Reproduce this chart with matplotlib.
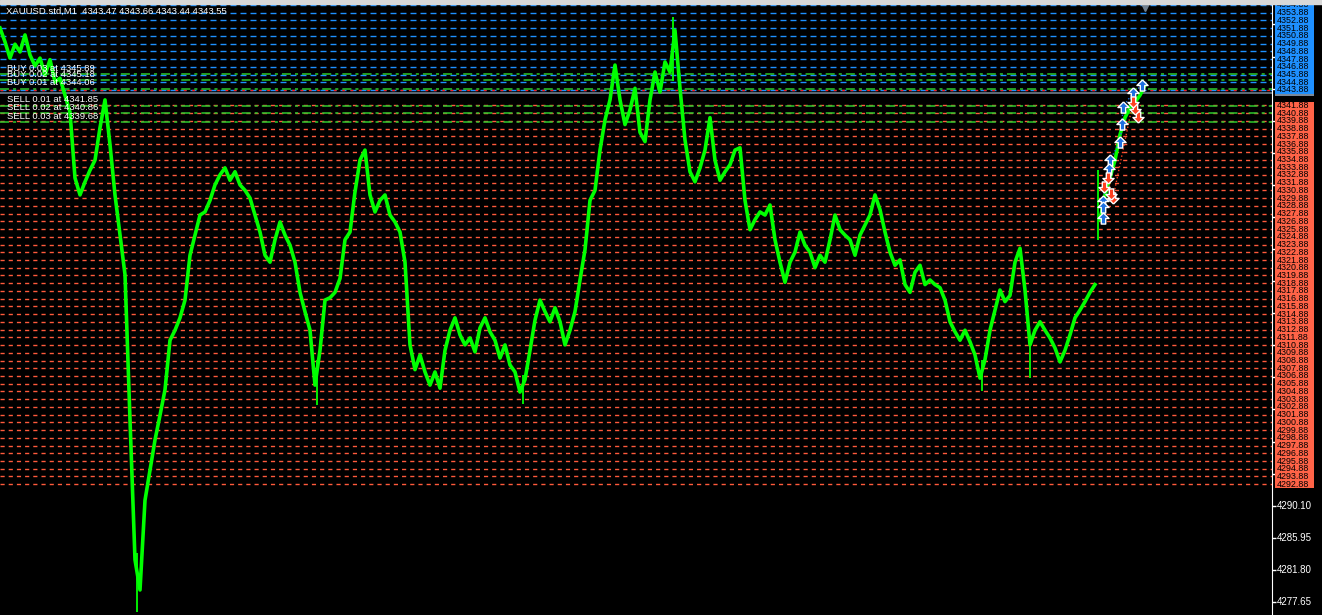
import numpy as np
import matplotlib
matplotlib.use("Agg")
import matplotlib.pyplot as plt
from matplotlib.path import Path
from matplotlib.patches import Rectangle

plt.rcParams['lines.scale_dashes'] = False
plt.rcParams['font.family'] = ['Liberation Sans', 'DejaVu Sans']

# price series (one value every 5 bars)
close_a = [
    4351.9, 4350.1, 4348.0, 4349.8, 4348.8, 4351.0, 4348.4, 4347.0, 4348.0, 4345.8,
    4347.8, 4344.9, 4345.4, 4343.2, 4341.0, 4332.5, 4330.3, 4332.0, 4333.5, 4334.8,
    4339.0, 4342.6, 4336.8, 4330.3, 4325.1, 4320.0, 4301.2, 4283.1, 4279.2, 4290.8,
    4294.7, 4298.6, 4301.8, 4305.1, 4311.5, 4312.8, 4314.4, 4316.7, 4322.5, 4325.1,
    4327.7, 4328.1, 4329.6, 4331.6, 4332.9, 4333.8, 4332.2, 4333.3, 4331.6, 4330.9,
    4329.9, 4327.7, 4325.5, 4322.5, 4321.6, 4324.5, 4326.8, 4325.1, 4323.8, 4321.6,
    4317.7, 4315.2, 4312.8, 4305.7, 4310.2, 4316.7, 4317.0, 4317.7, 4319.5, 4324.5,
    4325.5, 4330.7, 4334.8, 4336.1, 4330.3, 4328.1, 4329.6, 4330.3, 4327.7, 4326.8,
    4325.5, 4321.6, 4310.9, 4307.7, 4309.6, 4307.4, 4305.7, 4307.4, 4305.3, 4310.2,
    4312.8, 4314.4, 4312.2, 4310.9, 4311.8, 4310.0, 4313.1, 4314.4, 4312.6, 4311.5,
    4309.2, 4310.9, 4308.3, 4307.4, 4304.8, 4306.4, 4310.2, 4314.1, 4316.7, 4315.2,
    4313.9, 4315.7, 4313.9, 4310.9, 4312.8, 4315.2, 4319.3, 4323.2, 4329.6, 4330.9,
    4336.1, 4340.0, 4342.6, 4347.1, 4342.6, 4339.4, 4341.3, 4344.1, 4338.4, 4337.2,
    4342.6, 4346.2, 4343.6, 4347.5, 4346.2, 4351.6, 4344.1, 4337.4, 4333.3, 4332.0,
    4333.8, 4336.1, 4340.3, 4334.8, 4332.2, 4333.3, 4334.2, 4336.1, 4336.4, 4329.6,
    4325.8, 4327.1, 4328.1, 4327.7, 4329.0, 4324.5, 4321.6, 4319.0, 4321.6, 4322.9,
    4325.5, 4323.8, 4322.9, 4320.9, 4322.5, 4321.6, 4324.5, 4327.7, 4325.8, 4325.1,
    4324.5, 4322.5, 4325.1, 4326.4, 4327.7, 4330.3, 4328.4, 4325.5, 4322.9, 4321.2,
    4321.9, 4318.7, 4317.7, 4320.3, 4321.2, 4318.7, 4319.3, 4318.7, 4318.3, 4316.7,
    4313.9, 4312.6, 4311.5, 4312.8, 4311.3, 4309.6, 4306.6, 4309.0, 4312.8, 4315.4,
    4318.0, 4316.5, 4317.3, 4321.6, 4323.4, 4318.0, 4310.9, 4312.8, 4313.9, 4312.8,
    4311.8, 4310.5, 4308.7, 4310.2, 4312.2, 4314.4, 4315.4, 4316.5, 4317.7, 4318.7,
]
close_b = [4327.1, 4330.3, 4332.5, 4334.8, 4338.1, 4340.3, 4341.6, 4342.3, 4343.2, 4344.5]

# isolated long bars (bar, low, high)
spike_bar = [137, 317, 523, 982, 1030, 673, 1098]
spike_low = [4276.4, 4303.1, 4303.2, 4305.0, 4306.6, 4345.0, 4324.5]
spike_high = [4284.0, 4309.0, 4307.0, 4309.0, 4312.0, 4353.3, 4333.5]

blue_levels = [4354.88, 4353.88, 4352.88, 4351.88, 4350.88, 4349.88, 4348.88,
               4347.88, 4346.88, 4345.88, 4344.88, 4343.88]
red_levels = [4341.88, 4340.88, 4339.88, 4338.88, 4337.88, 4336.88, 4335.88, 4334.88,
              4333.88, 4332.88, 4331.88, 4330.88, 4329.88, 4328.88, 4327.88, 4326.88,
              4325.88, 4324.88, 4323.88, 4322.88, 4321.88, 4320.88, 4319.88, 4318.88,
              4317.88, 4316.88, 4315.88, 4314.88, 4313.88, 4312.88, 4311.88, 4310.88,
              4309.88, 4308.88, 4307.88, 4306.88, 4305.88, 4304.88, 4303.88, 4302.88,
              4301.88, 4300.88, 4299.88, 4298.88, 4297.88, 4296.88, 4295.88, 4294.88,
              4293.88, 4292.88]

trade_labels = ["BUY 0.03 at 4345.89", "BUY 0.02 at 4345.18", "BUY 0.01 at 4344.06",
                "SELL 0.01 at 4341.85", "SELL 0.02 at 4340.86", "SELL 0.03 at 4339.68"]
trade_prices = [4345.89, 4345.18, 4344.06, 4341.85, 4340.86, 4339.68]

buy_bar = [1142, 1133, 1123, 1122, 1120, 1110, 1109, 1103, 1103, 1103]
buy_price = [4344.5, 4343.5, 4341.7, 4339.5, 4337.2, 4334.8, 4333.7, 4329.5, 4328.7, 4327.3]
sell_bar = [1138, 1135, 1133, 1113, 1111, 1108, 1104]
sell_price = [4340.4, 4341.4, 4342.3, 4329.9, 4330.4, 4332.5, 4331.3]

scale_ticks = [4277.65, 4281.80, 4285.95, 4290.10, 4294.25, 4298.40, 4302.55, 4306.70,
               4310.85, 4315.00, 4319.15, 4323.30, 4327.45, 4331.60, 4335.75, 4339.90,
               4344.05, 4348.20, 4352.35]
scale_labels = ["4277.65", "4281.80", "4285.95", "4290.10"]

bid = 4343.55
header = "XAUUSD.std,M1  4343.47 4343.66 4343.44 4343.55"

W, H = 1322, 615
ymin, ymax = 4275.96, 4355.0

fig = plt.figure(figsize=(W / 100, H / 100), dpi=100, facecolor='black')
ax = fig.add_axes([0, 0, 1272 / W, 611 / H])
ax.set_facecolor('black')
ax.set_xlim(0, 1272)
ax.set_ylim(ymin, ymax)
ax.axis('off')

for lv in blue_levels:
    ax.axhline(lv, color='#1E90FF', lw=1, dashes=(4.3, 2.9), zorder=1)
for lv in red_levels:
    ax.axhline(lv, color='#FF5A3C', lw=1, dashes=(3.0, 2.9), zorder=1)
ax.axhline(blue_levels[-1], color='#FF2020', lw=1, dashes=(2.0, 4.0), zorder=1.1)

for p in trade_prices:
    ax.axhline(p, color='#2DC82D', lw=1.1, dashes=(6.5, 2.9, 2.2, 2.9), zorder=1.2)

ax.axhline(bid, color='#7A8898', lw=1.1, zorder=1.3)

xa = np.arange(len(close_a)) * 5
xb = 1100 + np.arange(len(close_b)) * 5
ax.plot(xa, close_a, color='#00FF00', lw=2.6, zorder=3)
ax.plot(xb, close_b, color='#00FF00', lw=2.6, zorder=3)
ax.vlines(spike_bar, spike_low, spike_high, color='#00FF00', lw=1.3, zorder=3)

ax.plot(buy_bar, buy_price, color='#1E70E0', lw=1, ls=':', zorder=3.5)
ax.plot(sell_bar, sell_price, color='#FF4020', lw=1, ls=':', zorder=3.5)

up = Path([(0, 1), (-1, 0), (-0.4, 0), (-0.4, -1), (0.4, -1), (0.4, 0), (1, 0), (0, 1)])
down = Path([(0, -1), (-1, 0), (-0.4, 0), (-0.4, 1), (0.4, 1), (0.4, 0), (1, 0), (0, -1)])
ax.plot(buy_bar, buy_price, ls='none', marker=up, ms=8, mfc='#1E70E0', mec='white', mew=1, zorder=4)
ax.plot(sell_bar, sell_price, ls='none', marker=down, ms=8, mfc='#FF4020', mec='white', mew=1, zorder=4)

for txt, p in zip(trade_labels, trade_prices):
    ax.text(7, p + 0.15, txt, color='white', fontsize=6.8, va='bottom', ha='left', zorder=5)

ax.text(6, ymax - 1.0, header, color='white', fontsize=6.8, va='center', ha='left', zorder=5)
ax.plot([1145], [4354.6], marker='v', ms=6, color='#708090', clip_on=False, zorder=5)

# price scale
ax2 = fig.add_axes([1272 / W, 0, 50 / W, 611 / H])
ax2.set_facecolor('black')
ax2.set_xlim(0, 50)
ax2.set_ylim(ymin, ymax)
for s in ['top', 'right', 'bottom']:
    ax2.spines[s].set_visible(False)
ax2.spines['left'].set_color('white')
ax2.set_xticks([])
ax2.set_yticks(scale_ticks)
ax2.set_yticklabels([])
ax2.tick_params(axis='y', direction='in', length=3, color='white', width=1)
for t, lab in zip(scale_ticks[:4], scale_labels):
    ax2.text(5, t, lab, color='white', fontsize=7, va='center', ha='left')

ax2.barh([bid], 39, left=3, height=1.0, color='#7A8898', zorder=2)
ax2.barh(blue_levels, 39, left=3, height=1.0, color='#1E90FF', zorder=3)
ax2.barh(red_levels, 39, left=3, height=1.0, color='#FF6347', zorder=3)
for lv in blue_levels + red_levels:
    ax2.text(5, lv, f"{lv:.2f}", color='black', fontsize=6.4, va='center', ha='left', zorder=4)

fig.add_artist(Rectangle((0, 611 / H), 1, 4 / H, transform=fig.transFigure, color='#d8d8d8'))

fig.savefig('out.png', dpi=100, facecolor='black')
